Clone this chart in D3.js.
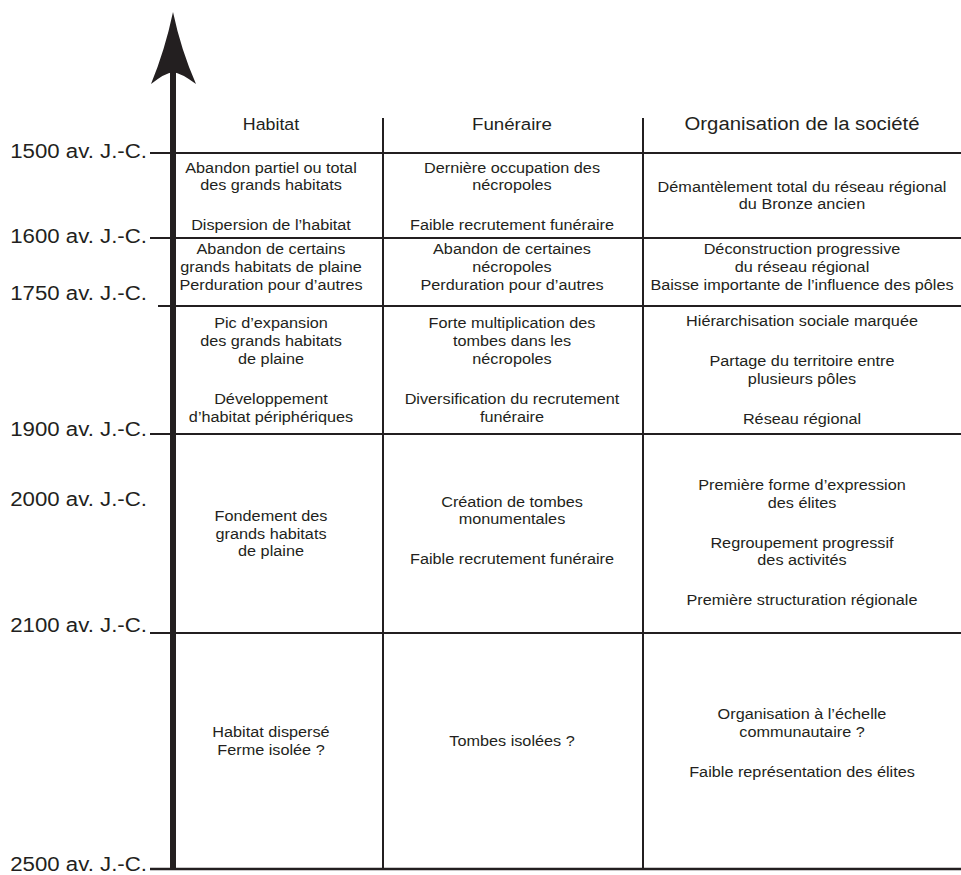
<!DOCTYPE html>
<html>
<head>
<meta charset="utf-8">
<script src="https://cdn.jsdelivr.net/npm/d3@7/dist/d3.min.js"></script>
<style>
  html, body { margin: 0; padding: 0; background: #fff; }
  svg { display: block; }
  text { font-family: "Liberation Sans", Arial, Helvetica, sans-serif; fill: #231f20; }
</style>
</head>
<body>
<svg id="chart" width="961" height="875"></svg>
<script>
// ---------------- DATA ----------------
const boundaryYears = [1500, 1600, 1750, 1900, 2100, 2500];
const labelYears = [1500, 1600, 1750, 1900, 2000, 2100, 2500];
const tickLabels = ["1500 av. J.-C.", "1600 av. J.-C.", "1750 av. J.-C.", "1900 av. J.-C.",
                    "2000 av. J.-C.", "2100 av. J.-C.", "2500 av. J.-C."];
const columns = ["Habitat", "Funéraire", "Organisation de la société"];

// each period (top to bottom): list of paragraphs, each a list of lines
const habitat = [
  [["Abandon partiel ou total", "des grands habitats"], ["Dispersion de l’habitat"]],
  [["Abandon de certains", "grands habitats de plaine", "Perduration pour d’autres"]],
  [["Pic d’expansion", "des grands habitats", "de plaine"], ["Développement", "d’habitat périphériques"]],
  [["Fondement des", "grands habitats", "de plaine"]],
  [["Habitat dispersé", "Ferme isolée ?"]]
];
const funeraire = [
  [["Dernière occupation des", "nécropoles"], ["Faible recrutement funéraire"]],
  [["Abandon de certaines", "nécropoles", "Perduration pour d’autres"]],
  [["Forte multiplication des", "tombes dans les", "nécropoles"], ["Diversification du recrutement", "funéraire"]],
  [["Création de tombes", "monumentales"], ["Faible recrutement funéraire"]],
  [["Tombes isolées ?"]]
];
const societe = [
  [["Démantèlement total du réseau régional", "du Bronze ancien"]],
  [["Déconstruction progressive", "du réseau régional", "Baisse importante de l’influence des pôles"]],
  [["Hiérarchisation sociale marquée"], ["Partage du territoire entre", "plusieurs pôles"], ["Réseau régional"]],
  [["Première forme d’expression", "des élites"], ["Regroupement progressif", "des activités"], ["Première structuration régionale"]],
  [["Organisation à l’échelle", "communautaire ?"], ["Faible représentation des élites"]]
];
const cellData = [habitat, funeraire, societe];

// ---------------- LAYOUT ----------------
const ink = "#231f20";
const svg = d3.select("#chart");
const y = d3.scaleLinear().domain(boundaryYears).range([153, 238, 306, 434, 633, 869]);
const axisX = 173;
const colEdges = [axisX, 383, 643, 961];
const colCenters = [271, 512, 802];
const headerBaseline = 130;
const headerTop = 118;
const headerStyle = [{size: 16.5, sx: 1.08}, {size: 17, sx: 1.1}, {size: 18, sx: 1.13}];
const lineStart = {1500: 150, 1600: 150, 1750: 158, 1900: 150, 2100: 150, 2500: 150};
const labelDy = {1500: 5, 1600: 5, 1750: -6, 1900: 2, 2000: -27.5, 2100: -1, 2500: 1.5};
const cellOffset = [[1, 1, 0], [-5, -5, -5], [0, 0, 0], [0, -3, 9], [-10, -10, -8]];
const lineH = 17.8, paraH = 40, capH = 10;

// horizontal period lines
svg.append("g").selectAll("line").data(boundaryYears).join("line")
  .attr("x1", d => lineStart[d]).attr("x2", 961)
  .attr("y1", d => y(d)).attr("y2", d => y(d))
  .attr("stroke", ink).attr("stroke-width", d => d === 2500 ? 2.5 : 2);

// column separators
svg.append("g").selectAll("line").data(colEdges.slice(1, 3)).join("line")
  .attr("x1", d => d).attr("x2", d => d)
  .attr("y1", headerTop).attr("y2", y(2500))
  .attr("stroke", ink).attr("stroke-width", 2);

// time arrow
svg.append("line")
  .attr("x1", axisX).attr("x2", axisX).attr("y1", 72).attr("y2", y(2500) + 1)
  .attr("stroke", ink).attr("stroke-width", 6);
svg.append("path")
  .attr("d", `M${axisX},12 Q${axisX + 8},50 ${axisX + 23},84 Q${axisX + 8},73 ${axisX},72 Q${axisX - 8},73 ${axisX - 22},84 Q${axisX - 8},50 ${axisX},12 Z`)
  .attr("fill", ink);

// axis labels
svg.append("g").selectAll("text").data(labelYears).join("text")
  .attr("transform", d => `translate(147,${y(d) + labelDy[d]}) scale(1.06,1)`)
  .attr("text-anchor", "end")
  .style("font-size", "21px")
  .text((d, i) => tickLabels[i]);

// headers
svg.append("g").selectAll("text").data(columns).join("text")
  .attr("transform", (d, i) => `translate(${colCenters[i]},${headerBaseline}) scale(${headerStyle[i].sx},1)`)
  .attr("text-anchor", "middle")
  .style("font-size", (d, i) => headerStyle[i].size + "px")
  .text(d => d);

// cells
const cellG = svg.append("g");
cellData.forEach((col, ci) => {
  col.forEach((paras, ri) => {
    const top = y(boundaryYears[ri]), bot = y(boundaryYears[ri + 1]);
    const center = (top + bot) / 2 + cellOffset[ri][ci];
    const lines = [];
    let yy = 0;
    paras.forEach((p) => {
      p.forEach((t, li) => {
        if (lines.length > 0) yy += (li === 0 ? paraH : lineH);
        lines.push({t, yy});
      });
    });
    const first = center - yy / 2 + capH / 2;
    cellG.selectAll(null).data(lines).join("text")
      .attr("transform", d => `translate(${colCenters[ci]},${first + d.yy}) scale(1.16,1)`)
      .attr("text-anchor", "middle")
      .style("font-size", "14px")
      .text(d => d.t);
  });
});
</script>
</body>
</html>
